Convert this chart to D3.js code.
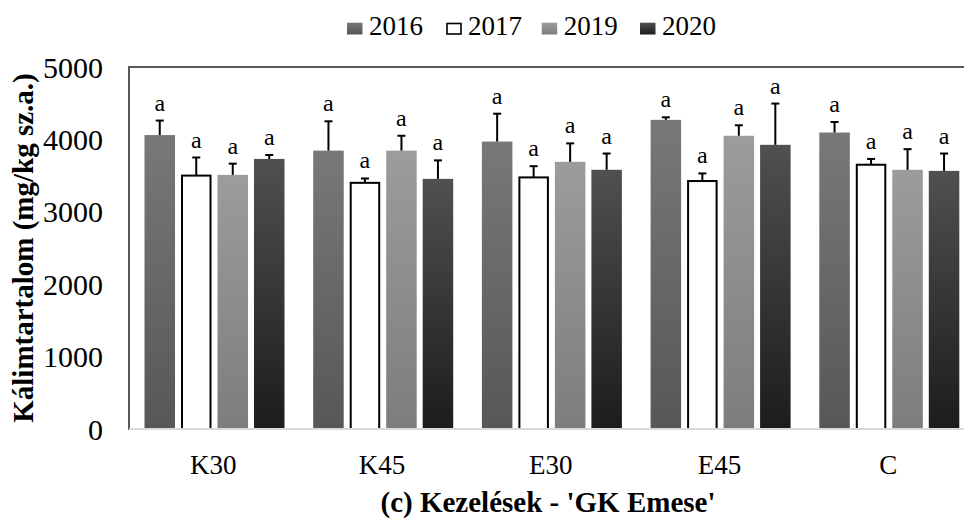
<!DOCTYPE html>
<html>
<head>
<meta charset="utf-8">
<script src="https://cdn.jsdelivr.net/npm/d3@7"></script>
<style>
  html, body { margin: 0; padding: 0; background: #fff; }
  svg { display: block; }
  text { font-family: "Liberation Serif", "Times New Roman", serif; fill: #000; }
</style>
</head>
<body>
<svg id="chart" width="964" height="519"></svg>
<script>
// ---- data ----
const categories = ["K30", "K45", "E30", "E45", "C"];
const years = ["2016", "2017", "2019", "2020"];
const values2016 = [4060, 3845, 3970, 4270, 4095];
const values2017 = [3500, 3400, 3475, 3425, 3650];
const values2019 = [3510, 3845, 3690, 4050, 3580];
const values2020 = [3730, 3455, 3580, 3925, 3565];
const err2016 = [200, 405, 385, 35, 145];
const err2017 = [250, 60, 155, 105, 80];
const err2019 = [155, 205, 255, 145, 285];
const err2020 = [55, 255, 225, 570, 240];
const letters2016 = ["a", "a", "a", "a", "a"];
const letters2017 = ["a", "a", "a", "a", "a"];
const letters2019 = ["a", "a", "a", "a", "a"];
const letters2020 = ["a", "a", "a", "a", "a"];
const yTicks = [0, 1000, 2000, 3000, 4000, 5000];
const yTitle = "Kálimtartalom (mg/kg sz.a.)";
const xTitle = "(c) Kezelések - 'GK Emese'";

const seriesValues = [values2016, values2017, values2019, values2020];
const seriesErr = [err2016, err2017, err2019, err2020];
const seriesLetters = [letters2016, letters2017, letters2019, letters2020];

// ---- layout ----
const svg = d3.select("#chart");
const plot = { left: 129, top: 67, right: 972.5, bottom: 429 };

const y = d3.scaleLinear().domain([0, 5000]).range([plot.bottom, plot.top]);
const x0 = d3.scaleBand().domain(categories).range([plot.left, plot.right]).padding(0);
const x1 = d3.scaleBand().domain(years).range([15.5, 155.5]).paddingInner(0.164).paddingOuter(0);

// gradients
const defs = svg.append("defs");
const grads = {
  "2016": ["#787878", "#575757"],
  "2019": ["#9c9c9c", "#7d7d7d"],
  "2020": ["#505050", "#1c1c1c"]
};
Object.entries(grads).forEach(([k, c]) => {
  const g = defs.append("linearGradient").attr("id", "g" + k)
    .attr("x1", 0).attr("y1", 0).attr("x2", 0).attr("y2", 1);
  g.append("stop").attr("offset", "0%").attr("stop-color", c[0]);
  g.append("stop").attr("offset", "100%").attr("stop-color", c[1]);
});
const fillFor = yr => yr === "2017" ? "#ffffff" : `url(#g${yr})`;

// plot border (top + left visible)
svg.append("rect")
  .attr("x", plot.left).attr("y", plot.top)
  .attr("width", plot.right - plot.left).attr("height", plot.bottom - plot.top)
  .attr("fill", "none").attr("stroke", "#595959").attr("stroke-width", 2);

// y tick labels
svg.append("g").selectAll("text").data(yTicks).join("text")
  .attr("x", 103).attr("y", d => y(d))
  .attr("dy", "0.35em")
  .attr("text-anchor", "end")
  .attr("font-size", 30)
  .text(d => d);

// bars
const groups = svg.append("g").selectAll("g").data(categories).join("g")
  .attr("transform", c => `translate(${x0(c)},0)`);

years.forEach((yr, si) => {
  groups.each(function (c, ci) {
    const g = d3.select(this);
    const v = seriesValues[si][ci];
    const e = seriesErr[si][ci];
    const bx = x1(yr), bw = x1.bandwidth();
    const cx = bx + bw / 2;
    if (yr === "2017") {
      g.append("rect")
        .attr("x", bx + 1).attr("y", y(v))
        .attr("width", bw - 2).attr("height", y(0) - y(v))
        .attr("fill", "#fff").attr("stroke", "#000").attr("stroke-width", 2);
    } else {
      g.append("rect")
        .attr("x", bx).attr("y", y(v))
        .attr("width", bw).attr("height", y(0) - y(v))
        .attr("fill", fillFor(yr));
    }
    // error bar (upper only)
    g.append("line")
      .attr("x1", cx).attr("x2", cx)
      .attr("y1", y(v)).attr("y2", y(v + e))
      .attr("stroke", "#000").attr("stroke-width", 2);
    g.append("line")
      .attr("x1", cx - 4).attr("x2", cx + 4)
      .attr("y1", y(v + e)).attr("y2", y(v + e))
      .attr("stroke", "#000").attr("stroke-width", 2);
    g.append("text")
      .attr("x", cx).attr("y", y(v + e) - 10)
      .attr("text-anchor", "middle")
      .attr("font-size", 24)
      .text(seriesLetters[si][ci]);
  });
});

// x axis line
svg.append("line")
  .attr("x1", plot.left).attr("x2", plot.right)
  .attr("y1", plot.bottom).attr("y2", plot.bottom)
  .attr("stroke", "#d9d9d9").attr("stroke-width", 2);

// category labels
svg.append("g").selectAll("text").data(categories).join("text")
  .attr("x", c => x0(c) + x0.bandwidth() / 2)
  .attr("y", 474)
  .attr("text-anchor", "middle")
  .attr("font-size", 27)
  .text(c => c);

// axis titles
svg.append("text")
  .attr("x", 548).attr("y", 512)
  .attr("text-anchor", "middle")
  .attr("font-size", 29).attr("font-weight", "bold")
  .text(xTitle);

svg.append("text")
  .attr("transform", "translate(33,248) rotate(-90)")
  .attr("text-anchor", "middle")
  .attr("font-size", 29).attr("font-weight", "bold")
  .text(yTitle);

// legend
const legendX = [347, 446, 541.7, 640];
const lg = svg.append("g").selectAll("g").data(years).join("g")
  .attr("transform", (d, i) => `translate(${legendX[i]},0)`);
lg.append("rect")
  .attr("x", d => d === "2017" ? 1 : 0).attr("y", d => d === "2017" ? 23.5 : 22.7)
  .attr("width", d => d === "2017" ? 14 : 15.5)
  .attr("height", d => d === "2017" ? 10.5 : 11.8)
  .attr("fill", d => fillFor(d))
  .attr("stroke", d => d === "2017" ? "#000" : "none")
  .attr("stroke-width", 1.6);
lg.append("text")
  .attr("x", 22).attr("y", 35)
  .attr("font-size", 27)
  .text(d => d);
</script>
</body>
</html>
